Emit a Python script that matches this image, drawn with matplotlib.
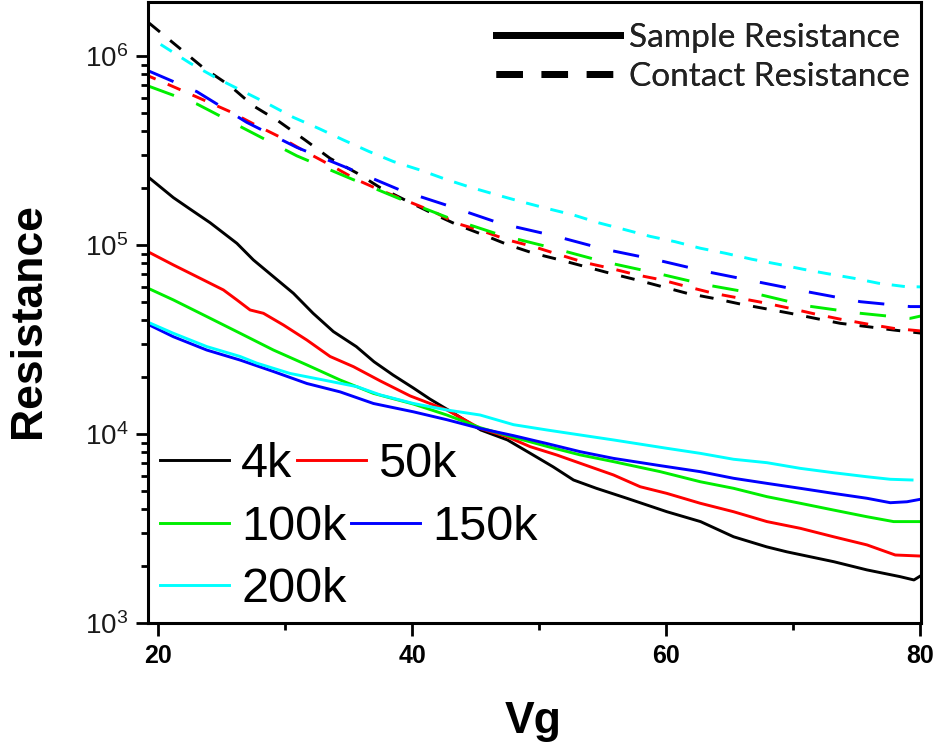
import matplotlib

matplotlib.use("Agg")
import matplotlib.pyplot as plt
from matplotlib.lines import Line2D
from matplotlib.ticker import LogLocator, NullFormatter

# sample resistance (solid)
vg_4k = [19.21, 21.2, 22.5, 24.1, 26.2, 27.5, 30.65, 32.2, 33.8, 35.6, 37.0, 38.5, 40.1, 41.4, 43.5, 45.4, 47.5,
         49.3, 51.1, 52.7, 54.5, 56.9, 60.05, 62.7, 65.3, 67.9, 69.5, 73.2, 75.8, 78.4, 79.5, 80.1]
r_4k = [2.29e5, 1.78e5, 1.55e5, 1.31e5, 1.02e5, 8.33e4, 5.55e4, 4.35e4, 3.48e4, 2.90e4, 2.41e4, 2.05e4, 1.75e4,
        1.53e4, 1.26e4, 1.05e4, 9.3e3, 7.9e3, 6.7e3, 5.71e3, 5.16e3, 4.57e3, 3.88e3, 3.44e3, 2.86e3, 2.53e3,
        2.38e3, 2.11e3, 1.91e3, 1.76e3, 1.69e3, 1.79e3]

vg_50k = [19.21, 21.2, 22.78, 25.14, 26.2, 27.24, 28.29, 29.87, 31.71, 33.54, 35.38, 37.48, 39.84, 42.73, 45.35,
          47.46, 49.29, 51.39, 53.23, 55.85, 57.95, 60.05, 62.68, 65.3, 67.93, 70.55, 73.17, 75.8, 78.03, 80.13]
r_50k = [9.2e4, 7.84e4, 6.94e4, 5.78e4, 5.12e4, 4.53e4, 4.35e4, 3.77e4, 3.14e4, 2.57e4, 2.27e4, 1.91e4, 1.59e4,
         1.34e4, 1.07e4, 9.68e3, 8.57e3, 7.74e3, 7.0e3, 6.07e3, 5.26e3, 4.85e3, 4.30e3, 3.88e3, 3.44e3, 3.17e3,
         2.86e3, 2.59e3, 2.29e3, 2.26e3]

vg_100k = [19.21, 21.2, 23.83, 26.46, 29.08, 31.71, 34.33, 36.95, 40.1, 42.73, 45.35, 47.98, 50.61, 53.23, 55.85,
           59.53, 62.68, 65.3, 67.93, 70.55, 73.17, 75.8, 77.9, 80.13]
r_100k = [5.9e4, 5.12e4, 4.18e4, 3.41e4, 2.78e4, 2.32e4, 1.93e4, 1.64e4, 1.44e4, 1.26e4, 1.08e4, 9.6e3, 8.6e3,
          7.75e3, 7.14e3, 6.32e3, 5.59e3, 5.16e3, 4.66e3, 4.30e3, 3.96e3, 3.65e3, 3.44e3, 3.44e3]

vg_150k = [19.21, 21.2, 23.83, 26.46, 29.08, 31.71, 34.33, 36.95, 40.1, 42.73, 45.35, 47.98, 50.61, 53.23, 55.85,
           59.53, 62.68, 65.3, 67.93, 70.55, 73.17, 75.8, 77.64, 78.95, 80.13]
r_150k = [3.8e4, 3.27e4, 2.78e4, 2.46e4, 2.14e4, 1.85e4, 1.67e4, 1.45e4, 1.31e4, 1.19e4, 1.07e4, 9.8e3, 8.9e3,
          8.06e3, 7.43e3, 6.8e3, 6.32e3, 5.83e3, 5.48e3, 5.16e3, 4.85e3, 4.57e3, 4.33e3, 4.38e3, 4.53e3]

vg_200k = [19.21, 21.2, 23.83, 26.46, 27.77, 30.39, 33.02, 35.65, 37.48, 40.1, 42.73, 45.35, 47.98, 50.61, 53.23,
           55.85, 60.05, 62.68, 65.3, 67.93, 70.55, 73.17, 75.8, 77.64, 79.35]
r_200k = [3.9e4, 3.41e4, 2.90e4, 2.57e4, 2.37e4, 2.09e4, 1.93e4, 1.78e4, 1.61e4, 1.45e4, 1.34e4, 1.26e4, 1.12e4,
          1.05e4, 9.88e3, 9.3e3, 8.40e3, 7.9e3, 7.35e3, 7.05e3, 6.58e3, 6.24e3, 5.94e3, 5.76e3, 5.71e3]

# contact resistance (dashed)
vgc_4k = [19.3, 21.47, 23.57, 25.67, 27.5, 29.45, 31.57, 33.54, 35.65, 37.48, 39.58, 41.68, 43.52, 45.61, 47.58,
          49.55, 51.65, 53.62, 55.59, 57.69, 59.66, 61.63, 63.72, 65.83, 67.66, 69.76, 71.73, 73.7, 75.8, 77.87, 80.0]
rc_4k = [1.49e6, 1.13e6, 8.64e5, 6.94e5, 5.44e5, 4.53e5, 3.59e5, 2.87e5, 2.40e5, 2.01e5, 1.71e5, 1.46e5, 1.28e5,
         1.13e5, 1.0e5, 9.04e4, 8.33e4, 7.68e4, 7.08e4, 6.53e4, 6.02e4, 5.55e4, 5.22e4, 4.87e4, 4.62e4, 4.35e4,
         4.09e4, 3.85e4, 3.70e4, 3.55e4, 3.42e4]

vgc_50k = [19.3, 21.47, 23.57, 25.67, 27.5, 29.53, 31.57, 33.54, 35.65, 37.48, 39.58, 41.68, 43.52, 45.61, 47.58,
           49.55, 51.65, 53.62, 55.59, 57.69, 59.66, 61.63, 63.72, 65.83, 67.66, 69.76, 71.73, 73.7, 75.8, 77.9, 80.0]
rc_50k = [7.8e5, 6.75e5, 5.85e5, 5.07e5, 4.37e5, 3.74e5, 3.12e5, 2.65e5, 2.21e5, 1.95e5, 1.71e5, 1.50e5, 1.30e5,
          1.18e5, 1.06e5, 9.80e4, 8.85e4, 8.06e4, 7.53e4, 6.94e4, 6.53e4, 6.02e4, 5.55e4, 5.22e4, 4.95e4, 4.62e4,
          4.31e4, 4.05e4, 3.82e4, 3.62e4, 3.51e4]

vgc_100k = [19.3, 23.05, 26.98, 30.92, 35.12, 39.06, 42.99, 46.93, 51.13, 55.06, 59.27, 63.2, 67.14, 71.08, 75.28,
            79.21, 80.05]
rc_100k = [6.9e5, 5.57e5, 4.06e5, 2.96e5, 2.25e5, 1.75e5, 1.38e5, 1.13e5, 9.61e4, 8.16e4, 7.08e4, 6.14e4, 5.51e4,
           4.76e4, 4.35e4, 4.09e4, 4.21e4]

vgc_150k = [19.3, 23.05, 26.98, 30.92, 35.12, 39.06, 42.99, 46.93, 51.13, 55.06, 59.27, 63.2, 67.14, 71.08, 75.28,
            79.21, 80.05]
rc_150k = [8.3e5, 6.47e5, 4.45e5, 3.28e5, 2.52e5, 1.95e5, 1.60e5, 1.30e5, 1.12e5, 9.52e4, 8.33e4, 7.22e4, 6.39e4,
           5.66e4, 5.01e4, 4.72e4, 4.72e4]

vgc_200k = [20.2, 22.52, 24.62, 26.46, 28.56, 30.65, 32.62, 34.59, 36.61, 38.53, 40.63, 42.6, 44.57, 46.67, 48.64,
            50.61, 52.71, 54.67, 56.64, 58.74, 60.71, 62.68, 64.65, 66.75, 68.72, 70.81, 72.78, 74.75, 76.72, 78.82,
            80.05]
rc_200k = [1.15e6, 9.15e5, 7.62e5, 6.61e5, 5.62e5, 4.73e5, 4.14e5, 3.59e5, 3.12e5, 2.76e5, 2.49e5, 2.23e5, 2.02e5,
           1.84e5, 1.69e5, 1.56e5, 1.44e5, 1.31e5, 1.21e5, 1.11e5, 1.04e5, 9.61e4, 9.04e4, 8.40e4, 7.93e4, 7.43e4,
           7.03e4, 6.67e4, 6.27e4, 6.02e4, 6.0e4]

labels = ["4k", "50k", "100k", "150k", "200k"]
colors = ["#000000", "#ff0000", "#00ee00", "#0000ff", "#00ffff"]
sample_x = [vg_4k, vg_50k, vg_100k, vg_150k, vg_200k]
sample_y = [r_4k, r_50k, r_100k, r_150k, r_200k]
contact_x = [vgc_4k, vgc_50k, vgc_100k, vgc_150k, vgc_200k]
contact_y = [rc_4k, rc_50k, rc_100k, rc_150k, rc_200k]
# dash patterns in points (on, off), offset
contact_dashes = [(0, (10, 9.5)), (5, (10, 9.5)), (0, (19, 17)), (0, (19, 17)), (0, (9.5, 8.5))]

x_ticks = [20, 40, 60, 80]
x_minor = [30, 50, 70]

plt.rcParams["font.family"] = ["Liberation Sans", "DejaVu Sans"]
plt.rcParams["mathtext.default"] = "regular"
plt.rcParams["lines.scale_dashes"] = False

fig = plt.figure(figsize=(9.43, 7.52), dpi=100)
ax = fig.add_axes([0.1569, 0.1715, 0.8197, 0.8265])

for xs, ys, color, dash in zip(contact_x, contact_y, colors, contact_dashes):
    ax.plot(xs, ys, color=color, linewidth=2.1, linestyle=dash)

series_lines = []
for xs, ys, color, label in zip(sample_x, sample_y, colors, labels):
    (line,) = ax.plot(xs, ys, color=color, linewidth=2.1, label=label)
    series_lines.append(line)

ax.set_yscale("log")
ax.set_xlim(19.2, 80.05)
ax.set_ylim(1e3, 1.94e6)

ax.set_xticks(x_ticks)
ax.set_xticklabels([str(t) for t in x_ticks], fontweight="bold", fontsize=18)
ax.set_xticks(x_minor, minor=True)
ax.yaxis.set_major_locator(LogLocator(base=10, numticks=10))
ax.yaxis.set_minor_locator(LogLocator(base=10, subs=range(2, 10), numticks=20))
ax.yaxis.set_minor_formatter(NullFormatter())

ax.tick_params(axis="both", which="major", direction="out", length=9, width=2, top=False, right=False)
ax.tick_params(axis="both", which="minor", direction="out", length=5, width=2, top=False, right=False)
ax.tick_params(axis="y", which="major", labelsize=20, pad=5, labelcolor="#1a1a1a")
ax.tick_params(axis="x", which="major", pad=6)
for spine in ax.spines.values():
    spine.set_linewidth(2.2)

ax.set_ylabel("Resistance", fontsize=32, fontweight="bold", va="center")
ax.yaxis.set_label_coords(-0.155, 0.486)
ax.set_xlabel("Vg", fontsize=32, fontweight="bold", va="center")
ax.xaxis.set_label_coords(0.498, -0.158)

# series legend, Origin style rows
rows = [[0, 1], [2, 3], [4]]
row_y = [0.2556, 0.1543, 0.0547]
for idx_list, y in zip(rows, row_y):
    leg = ax.legend(
        [series_lines[i] for i in idx_list],
        [labels[i] for i in idx_list],
        loc="center left",
        bbox_to_anchor=(0.0155, y),
        ncol=2,
        frameon=False,
        fontsize=35,
        handlelength=1.42,
        handletextpad=0.25,
        columnspacing=0.1,
        borderpad=0,
        borderaxespad=0,
    )
    ax.add_artist(leg)

style_handles = [
    Line2D([], [], color="black", linewidth=5, linestyle="-"),
    Line2D([], [], color="black", linewidth=5, linestyle=(0, (19, 13.5))),
]
style_leg = ax.legend(
    style_handles,
    ["Sample Resistance", "Contact Resistance"],
    loc="upper right",
    bbox_to_anchor=(0.985, 0.966),
    frameon=False,
    prop={"family": ["Lato", "DejaVu Sans"], "size": 24},
    labelcolor="#222222",
    handlelength=3.72,
    handletextpad=0.27,
    labelspacing=0.27,
    borderpad=0,
    borderaxespad=0,
)
ax.add_artist(style_leg)

fig.savefig("out.png", dpi=100)
